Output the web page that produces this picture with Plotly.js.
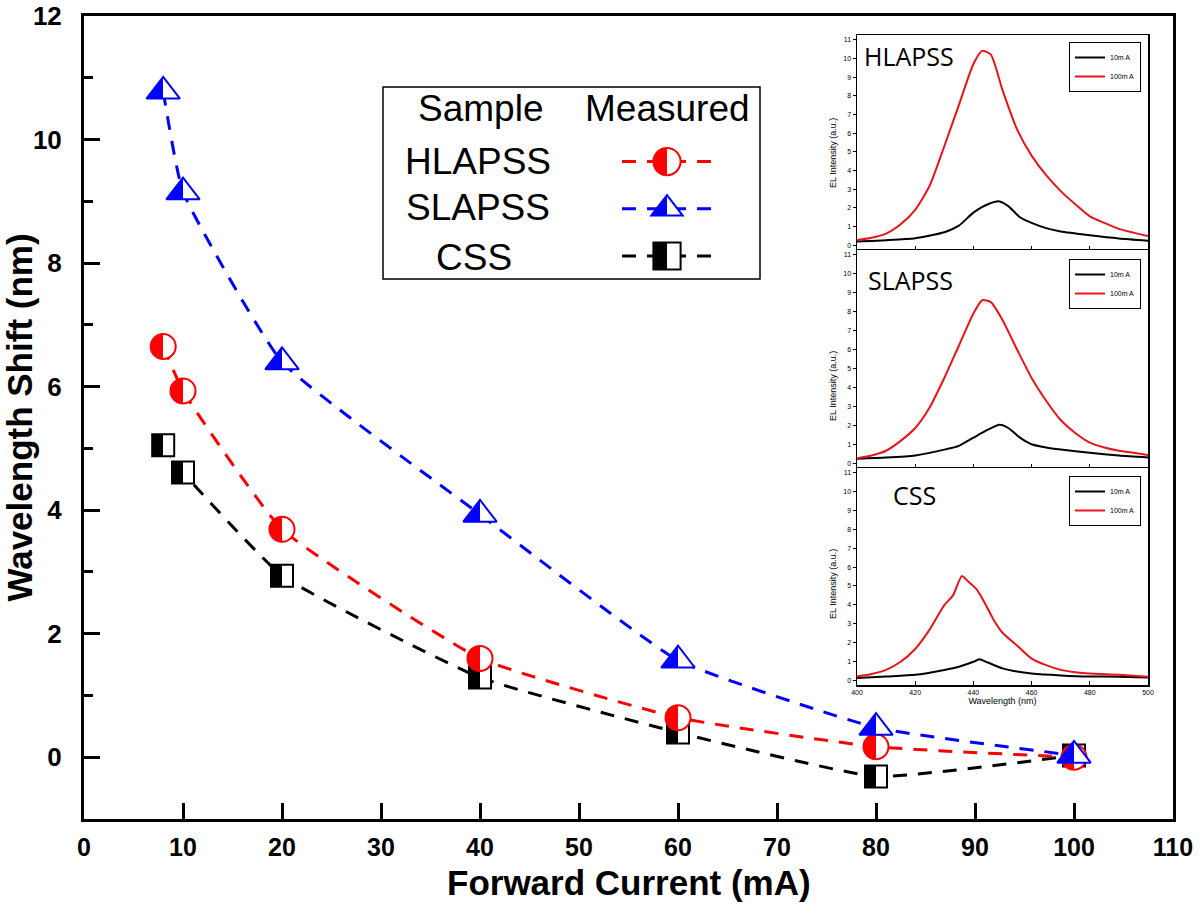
<!DOCTYPE html>
<html><head><meta charset="utf-8">
<script src="https://cdn.plot.ly/plotly-3.0.1.min.js"></script>
<style>html,body{margin:0;padding:0;background:#fff}#chart{width:1200px;height:907px}</style>
</head><body><div id="chart"></div>
<script>
// ---- main data: wavelength shift vs forward current ----
const current = [8, 10, 20, 40, 60, 80, 100];
const hlapssShift = [6.65, 5.93, 3.69, 1.60, 0.64, 0.17, 0.0];
const slapssShift = [10.78, 9.15, 6.40, 3.93, 1.57, 0.48, 0.03];
const cssShift = [5.05, 4.61, 2.94, 1.29, 0.40, -0.31, 0.03];

// ---- inset spectra ----
const hlWl10 = [400,410,420,430,435,440,445,449,452,456,460,465,470,480,490,500];
const hlEl10 = [0.2,0.27,0.38,0.7,1.05,1.75,2.2,2.35,2.1,1.5,1.2,0.92,0.74,0.54,0.37,0.25];
const hlWl100 = [400,405,410,415,420,425,430,435,440,443,446,450,455,460,465,470,475,480,485,490,495,500];
const hlEl100 = [0.28,0.4,0.63,1.13,1.9,3.2,5.3,7.5,9.7,10.4,10.2,8.3,6.2,4.8,3.75,2.9,2.2,1.55,1.2,0.88,0.68,0.5];

const slWl10 = [400,410,420,430,435,440,445,449,452,456,460,465,470,480,490,500];
const slEl10 = [0.24,0.3,0.41,0.72,0.92,1.35,1.77,2.03,1.86,1.35,1.0,0.83,0.72,0.55,0.41,0.31];
const slWl100 = [400,405,410,415,420,425,430,435,440,443,446,450,455,460,465,470,475,480,485,490,495,500];
const slEl100 = [0.27,0.41,0.66,1.18,1.86,2.96,4.5,6.2,7.9,8.6,8.5,7.56,6.0,4.5,3.3,2.28,1.6,1.09,0.83,0.66,0.55,0.44];

const cssWl10 = [400,410,420,430,435,440,442,445,450,455,460,470,480,490,500];
const cssEl10 = [0.12,0.2,0.29,0.55,0.72,0.98,1.12,0.94,0.63,0.46,0.36,0.26,0.2,0.19,0.15];
const cssWl100 = [400,405,410,415,420,425,430,433,436,438,441,444,447,450,455,460,465,470,475,480,490,500];
const cssEl100 = [0.2,0.33,0.55,0.98,1.66,2.7,3.98,4.5,5.52,5.27,4.84,4.07,3.2,2.52,1.84,1.15,0.8,0.55,0.43,0.36,0.29,0.19];

const sampleNames = ['HLAPSS', 'SLAPSS', 'CSS'];
const currentNames = ['10m A', '100m A'];

// ---- pixel helpers for layout placement ----
const L = 84, R = 1173, T = 16, B = 819;
const px = x => (x - L) / (R - L);
const py = y => (B - y) / (B - T);

const RED = '#ff0000', BLUE = '#0000ff', BLACK = '#000000';
const FONT = 'Arial, "Liberation Sans", sans-serif';

function mainTrace(name, y, color, symbol, size, rank) {
  return {
    type: 'scatter', mode: 'lines+markers', x: current, y: y, name: name,
    xaxis: 'x', yaxis: 'y', legend: 'legend', legendrank: rank,
    line: {color: color, width: 3, dash: '14px,11px', shape: 'spline', smoothing: 0.4},
    marker: {symbol: symbol, size: size, color: color, line: {color: color, width: 2},
             gradient: {type: 'horizontal', color: '#ffffff'}},
    hoverinfo: 'skip'
  };
}
function specTrace(x, y, name, color, ax, leg) {
  return {
    type: 'scatter', mode: 'lines', x: x, y: y, name: name,
    xaxis: 'x' + ax, yaxis: 'y' + ax, legend: leg,
    line: {color: color, width: 2, shape: 'spline', smoothing: 0.6},
    hoverinfo: 'skip'
  };
}

const data = [
  mainTrace(sampleNames[2], cssShift, BLACK, 'square', 22, 3),
  mainTrace(sampleNames[0], hlapssShift, RED, 'circle', 25, 1),
  mainTrace(sampleNames[1], slapssShift, BLUE, 'triangle-up', 29, 2),
  specTrace(hlWl10, hlEl10, currentNames[0], BLACK, 2, 'legend2'),
  specTrace(hlWl100, hlEl100, currentNames[1], '#e8141c', 2, 'legend2'),
  specTrace(slWl10, slEl10, currentNames[0], BLACK, 3, 'legend3'),
  specTrace(slWl100, slEl100, currentNames[1], '#e8141c', 3, 'legend3'),
  specTrace(cssWl10, cssEl10, currentNames[0], BLACK, 4, 'legend4'),
  specTrace(cssWl100, cssEl100, currentNames[1], '#e8141c', 4, 'legend4')
];

const insetX = [px(857), px(1148)];
function insetXAxis(anchor, showLabels) {
  return {
    domain: insetX, anchor: anchor, range: [400, 500], dtick: 20, tick0: 400,
    ticks: 'inside', ticklen: 4, tickwidth: 1, tickcolor: BLACK,
    showline: true, mirror: true, linewidth: 1.5, linecolor: BLACK,
    showgrid: false, zeroline: false, showticklabels: showLabels,
    tickfont: {family: FONT, size: 7, color: BLACK},
    title: showLabels ? {text: 'Wavelength (nm)', font: {family: FONT, size: 9, color: BLACK}, standoff: 1} : {text: ''}
  };
}
function insetYAxis(anchor, top, bottom) {
  return {
    domain: [py(bottom), py(top)], anchor: anchor, range: [-0.25, 11.25], dtick: 1, tick0: 0,
    ticks: 'outside', ticklen: 3, tickwidth: 1, tickcolor: BLACK,
    showline: true, mirror: true, linewidth: 1.5, linecolor: BLACK,
    showgrid: false, zeroline: false,
    tickfont: {family: FONT, size: 7, color: BLACK}
  };
}
function insetLegend(top) {
  return {x: px(1069), y: py(top), xanchor: 'left', yanchor: 'top',
          font: {family: FONT, size: 7, color: BLACK}, bgcolor: '#ffffff',
          bordercolor: BLACK, borderwidth: 1, itemwidth: 30, traceorder: 'normal'};
}
function txt(text, x, y, size, family, xanchor, weight, angle) {
  return {text: text, xref: 'paper', yref: 'paper', x: px(x), y: py(y),
          xanchor: xanchor || 'center', yanchor: 'middle', showarrow: false,
          textangle: angle || 0,
          font: {family: family || FONT, size: size, color: BLACK, weight: weight || 'normal'}};
}
const elTitle = 'EL Intensity (a.u.)';

const layout = {
  width: 1200, height: 907,
  margin: {l: L, r: 1200 - R, t: T, b: 907 - B, pad: 0},
  paper_bgcolor: '#ffffff', plot_bgcolor: '#ffffff',
  showlegend: true,
  xaxis: {
    domain: [0, 1], anchor: 'y', range: [0, 110], dtick: 10, tick0: 0,
    ticks: 'inside', ticklen: 16, tickwidth: 3, tickcolor: BLACK,
    showline: true, mirror: true, linewidth: 3, linecolor: BLACK,
    showgrid: false, zeroline: false,
    tickfont: {family: FONT, size: 25, color: BLACK, weight: 'bold'}, ticklabelstandoff: 4
  },
  yaxis: {
    domain: [0, 1], anchor: 'x', range: [-1, 12], dtick: 2, tick0: 0,
    ticks: 'inside', ticklen: 16, tickwidth: 3, tickcolor: BLACK,
    minor: {dtick: 1, tick0: 0, ticks: 'inside', ticklen: 9, tickwidth: 3, tickcolor: BLACK},
    showline: true, mirror: true, linewidth: 3, linecolor: BLACK,
    showgrid: false, zeroline: false,
    tickfont: {family: FONT, size: 26, color: BLACK, weight: 'bold'}, ticklabelstandoff: 14,
    title: {text: 'Wavelength Shift (nm)', font: {family: FONT, size: 35, color: BLACK, weight: 'bold'}, standoff: 4}
  },
  xaxis2: insetXAxis('y2', false), yaxis2: insetYAxis('x2', 35, 250),
  xaxis3: insetXAxis('y3', false), yaxis3: insetYAxis('x3', 250, 468),
  xaxis4: insetXAxis('y4', true), yaxis4: insetYAxis('x4', 468, 685),
  legend: {x: px(617), y: py(133), xanchor: 'left', yanchor: 'top',
           font: {family: FONT, size: 34, color: 'rgba(0,0,0,0)'},
           bgcolor: 'rgba(0,0,0,0)', borderwidth: 0, itemwidth: 90, traceorder: 'normal'},
  legend2: insetLegend(42), legend3: insetLegend(259), legend4: insetLegend(476),
  shapes: [
    {type: 'rect', xref: 'paper', yref: 'paper', x0: px(383), x1: px(760), y0: py(279), y1: py(87),
     line: {color: BLACK, width: 1.5}, fillcolor: 'rgba(0,0,0,0)', layer: 'above'}
  ],
  annotations: [
    txt('Forward Current (mA)', 629, 882, 35, FONT, 'center', 'bold'),
    txt('Sample', 480, 108, 37),
    txt('Measured', 667, 108, 37),
    txt(sampleNames[0], 478, 162, 37),
    txt(sampleNames[1], 478, 208, 37),
    txt(sampleNames[2], 474, 257, 37),
    txt(sampleNames[0], 862, 56, 25, '"Open Sans", sans-serif', 'left'),
    txt(sampleNames[1], 866, 280, 25, '"Open Sans", sans-serif', 'left'),
    txt(sampleNames[2], 891, 495, 25, '"Open Sans", sans-serif', 'left'),
    txt(elTitle, 833, 153, 9, FONT, 'center', 'normal', -90),
    txt(elTitle, 833, 386, 9, FONT, 'center', 'normal', -90),
    txt(elTitle, 833, 584, 9, FONT, 'center', 'normal', -90)
  ]
};

Plotly.newPlot('chart', data, layout, {staticPlot: true, displayModeBar: false}).then(function (gd) {
  // crisp half-filled markers: put both gradient stops at the middle
  gd.querySelectorAll('linearGradient').forEach(function (g) {
    g.querySelectorAll('stop').forEach(function (s) { s.setAttribute('offset', '50%'); });
  });
  // main legend: symbols only (names are drawn as the left column text); enlarge symbols
  gd.querySelectorAll('g.legend .legendpoints path.scatterpts').forEach(function (p) {
    var t = p.getAttribute('transform') || '';
    p.setAttribute('transform', t + ' scale(1.7)');
    p.style.vectorEffect = 'non-scaling-stroke';
  });
  gd.querySelectorAll('g.legend text.legendtext').forEach(function (t) { t.textContent = ''; });
});
</script>
</body></html>
